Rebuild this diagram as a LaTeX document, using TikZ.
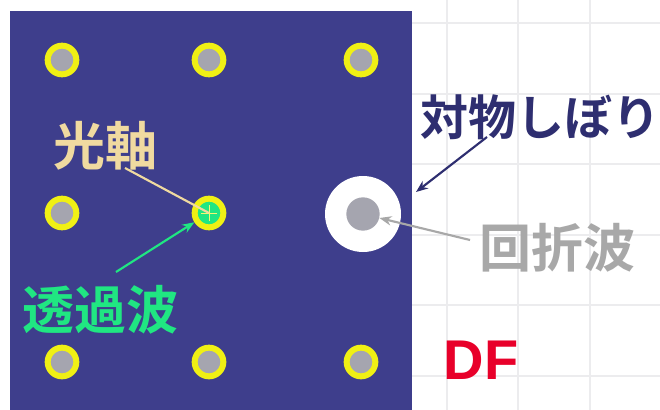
\documentclass[tikz,border=0pt]{standalone}
\usepackage{fontspec}
\newfontfamily\jpfont{Noto Sans CJK JP}[BoldFont={Noto Sans CJK JP Bold}]
\newfontfamily\dffont{Liberation Sans}
\usetikzlibrary{arrows.meta}
\definecolor{panel}{RGB}{62,62,140}
\definecolor{ringy}{RGB}{240,240,20}
\definecolor{dotg}{RGB}{165,165,175}
\definecolor{axiscol}{RGB}{240,218,160}
\definecolor{transcol}{RGB}{32,230,130}
\definecolor{stopcol}{RGB}{46,46,112}
\definecolor{diffcol}{RGB}{168,168,168}
\definecolor{dfcol}{RGB}{232,0,42}
\definecolor{gridcol}{RGB}{236,236,238}
\tikzset{
  spot/.style={circle, draw=ringy, line width=4.5pt, fill=dotg, minimum size=21.5pt, inner sep=0pt},
  jplabel/.style={font=\jpfont\bfseries\fontsize{39}{40}\selectfont, inner sep=0pt},
  conn/.style={line width=1.6pt},
  tip/.style={-{Stealth[length=9pt,width=7pt]}}
}
\begin{document}
\begin{tikzpicture}[x=0.75pt,y=-0.75pt]
\useasboundingbox (0,0) rectangle (660,410);
\fill[white] (0,0) rectangle (660,410);
% faint grid
\foreach \gx in {447,518,590} \draw[gridcol, line width=0.9pt] (\gx,0) -- (\gx,410);
\foreach \gy in {23,94,164,235,305,376} \draw[gridcol, line width=0.9pt] (412,\gy) -- (660,\gy);
% panel
\fill[panel] (10,11) rectangle (412,410);
% spots
\node[spot] (c11) at (62,60) {};
\node[spot] (c12) at (209,60) {};
\node[spot] (c13) at (361,60) {};
\node[spot] (c21) at (62,213) {};
\node[spot, fill=transcol] (c22) at (209,213) {};
\draw[ringy!60!white, line width=0.6pt] (c22.center) ++(-8,0) -- ++(16,0);
\draw[ringy!60!white, line width=0.6pt] (c22.center) ++(0,-8) -- ++(0,16);
\node[spot] (c31) at (62,362) {};
\node[spot] (c32) at (209,362) {};
\node[spot] (c33) at (361,362) {};
% stop (white disc)
\node[circle, fill=white, minimum size=57pt, inner sep=0pt] (stop) at (363,214) {};
\node[circle, fill=dotg, minimum size=25pt, inner sep=0pt] (diffspot) at (363,214) {};
% labels
\node[jplabel, text=axiscol] (ax) at (105,146) {光軸};
\node[jplabel, text=transcol] (tr) at (100,310) {透過波};
\node[jplabel, text=stopcol, font=\jpfont\bfseries\fontsize{36}{37}\selectfont] (st) at (540,117) {対物しぼり};
\node[jplabel, text=diffcol] (df) at (557,248) {回折波};
\node[font=\dffont\bfseries\fontsize{42}{43}\selectfont, text=dfcol, inner sep=0pt] (dflab) at (481,360) {DF};
% connectors
\coordinate (axs) at (125,168);
\coordinate (trs) at (116,272);
\coordinate (sts) at (487,137);
\coordinate (stt) at (416,192);
\coordinate (dfs) at (470,240);
\draw[conn, axiscol] (axs) -- (c22.center);
\draw[conn, transcol, tip] (trs) -- (c22);
\draw[conn, stopcol, tip] (sts) -- (stt);
\draw[conn, diffcol, tip] (dfs) -- (diffspot);
\end{tikzpicture}
\end{document}
